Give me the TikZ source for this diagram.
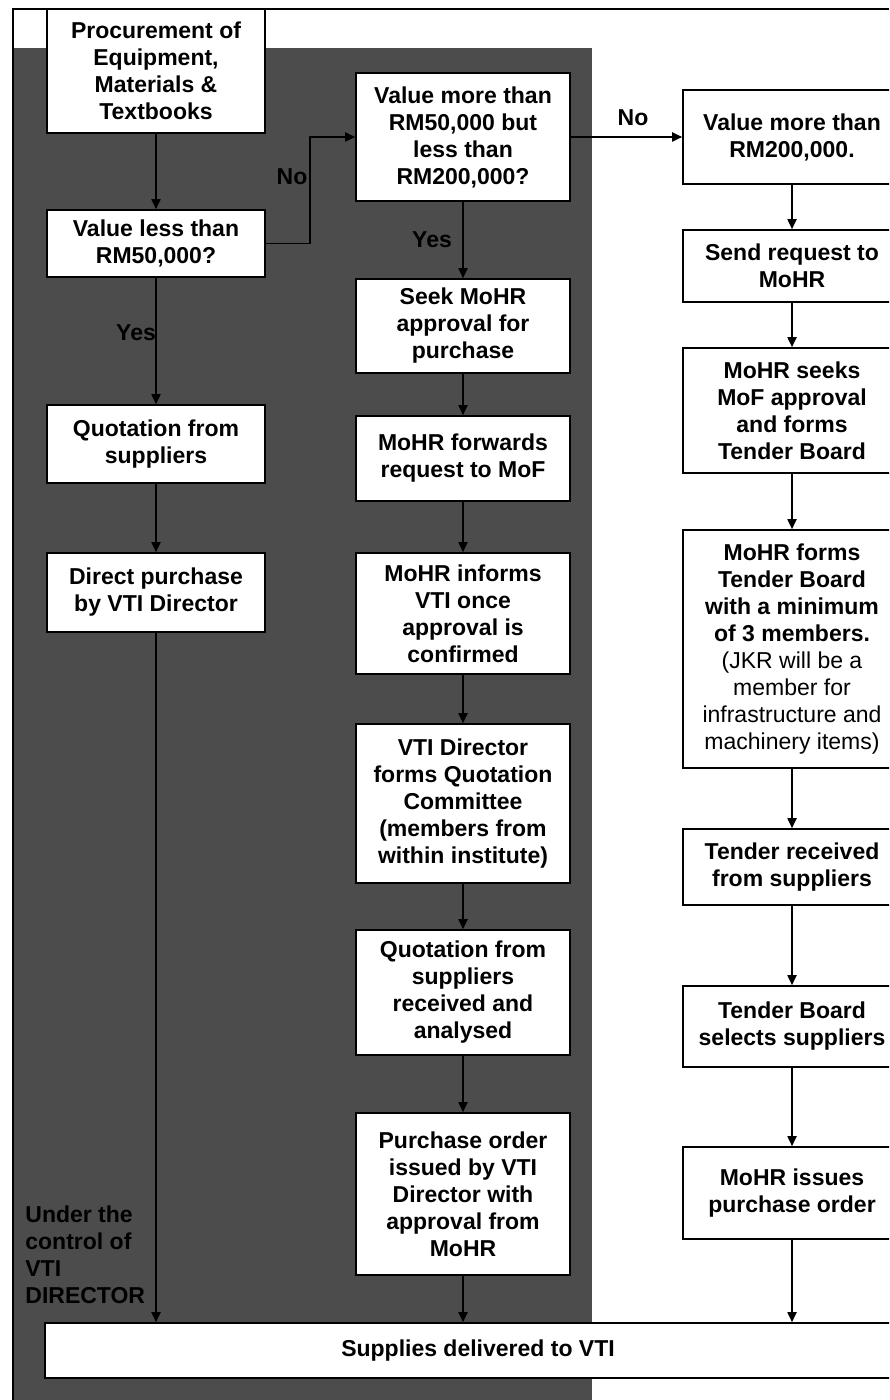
\documentclass[tikz,border=0pt]{standalone}
\usepackage{fontspec}
\setmainfont{Liberation Sans}
\usetikzlibrary{arrows.meta}
\newcommand\flowfont{\fontsize{11.5}{13.5}\selectfont\bfseries}
% \flowbox{name}{left}{top}{right}{bottom}{text}, positions in pixels
\newcommand\flowbox[6]{%
  \node[box, minimum width={(#4-#2)*0.5pt}, minimum height={(#5-#3)*0.5pt}]
    (#1) at ({(#2+#4)/2},{(#3+#5)/2}) {#6};}
\begin{document}
\begin{tikzpicture}[x=0.5pt,y=-0.5pt,
  box/.style={draw=black,fill=white,line width=0.8pt,inner sep=0pt,align=center,font=\flowfont},
  lab/.style={inner sep=0pt,font=\flowfont,text=black},
  arr/.style={draw=black,line width=0.9pt,-{Triangle[length=5pt,width=4.5pt]}},
  frame/.style={draw=black,line width=1pt},
  shade/.style={fill=black!70}]
\useasboundingbox (0,0) rectangle (889,1400);
\clip (0,0) rectangle (889,1400);
\fill[white] (0,0) rectangle (889,1400);

% area under the control of the VTI director
\fill[shade] (14,48) rectangle (592,1400);
\draw[frame] (12,9) -- (889,9);
\draw[frame] (13,9) -- (13,1400);

% left column: purchases below RM50,000
\flowbox{L1}{47}{9}{265}{133}{Procurement of\\Equipment,\\Materials \&\\Textbooks}
\flowbox{L2}{47}{210}{265}{277}{Value less than\\RM50,000?}
\flowbox{L3}{47}{405}{265}{483}{Quotation from\\suppliers}
\flowbox{L4}{47}{553}{265}{632}{Direct purchase\\by VTI Director}

% middle column: RM50,000 to RM200,000
\flowbox{M1}{356}{73}{570}{201}{Value more than\\RM50,000 but\\less than\\RM200,000?}
\flowbox{M2}{356}{279}{570}{373}{Seek MoHR\\approval for\\purchase}
\flowbox{M3}{356}{416}{570}{501}{MoHR forwards\\request to MoF}
\flowbox{M4}{356}{553}{570}{674}{MoHR informs\\VTI once\\approval is\\confirmed}
\flowbox{M5}{356}{724}{570}{883}{VTI Director\\forms Quotation\\Committee\\(members from\\within institute)}
\flowbox{M6}{356}{930}{570}{1055}{Quotation from\\suppliers\\received and\\analysed}
\flowbox{M7}{356}{1113}{570}{1275}{Purchase order\\issued by VTI\\Director with\\approval from\\MoHR}

% right column: above RM200,000
\flowbox{R1}{683}{90}{901}{184}{Value more than\\RM200,000.}
\flowbox{R2}{683}{230}{901}{302}{Send request to\\MoHR}
\flowbox{R3}{683}{348}{901}{473}{MoHR seeks\\MoF approval\\and forms\\Tender Board}
\flowbox{R4}{683}{530}{901}{768}{MoHR forms\\Tender Board\\with a minimum\\of 3 members.\\\mdseries (JKR will be a\\\mdseries member for\\\mdseries infrastructure and\\\mdseries machinery items)}
\flowbox{R5}{683}{829}{901}{905}{Tender received\\from suppliers}
\flowbox{R6}{683}{986}{901}{1067}{Tender Board\\selects suppliers}
\flowbox{R7}{683}{1147}{901}{1239}{MoHR issues\\purchase order}

% common end point
\flowbox{bar}{45}{1323}{911}{1378}{Supplies delivered to VTI}

% labels
\node[lab] (noA) at (292,177) {No};
\node[lab] (yesA) at (136,333) {Yes};
\node[lab] (yesB) at (432,240) {Yes};
\node[lab] (noB) at (633,118) {No};
\node[lab, align=left, anchor=north west] (ctrl) at (25,1205) {Under the\\control of\\VTI\\DIRECTOR};

% connectors
\coordinate (jog) at (310,0);
\draw[arr] (L1.south) -- (L2.north);
\draw[arr] (L2.south) -- (L3.north);
\draw[arr] (L3.south) -- (L4.north);
\draw[arr] (L4.south) -- (L4.south |- bar.north);
\draw[arr] (L2.east) -- (L2.east -| jog) |- (M1.west);
\draw[arr] (M1.south) -- (M2.north);
\draw[arr] (M2.south) -- (M3.north);
\draw[arr] (M3.south) -- (M4.north);
\draw[arr] (M4.south) -- (M5.north);
\draw[arr] (M5.south) -- (M6.north);
\draw[arr] (M6.south) -- (M7.north);
\draw[arr] (M7.south) -- (M7.south |- bar.north);
\draw[arr] (M1.east) -- (M1.east -| R1.west);
\draw[arr] (R1.south) -- (R2.north);
\draw[arr] (R2.south) -- (R3.north);
\draw[arr] (R3.south) -- (R4.north);
\draw[arr] (R4.south) -- (R5.north);
\draw[arr] (R5.south) -- (R6.north);
\draw[arr] (R6.south) -- (R7.north);
\draw[arr] (R7.south) -- (R7.south |- bar.north);
\end{tikzpicture}
\end{document}
